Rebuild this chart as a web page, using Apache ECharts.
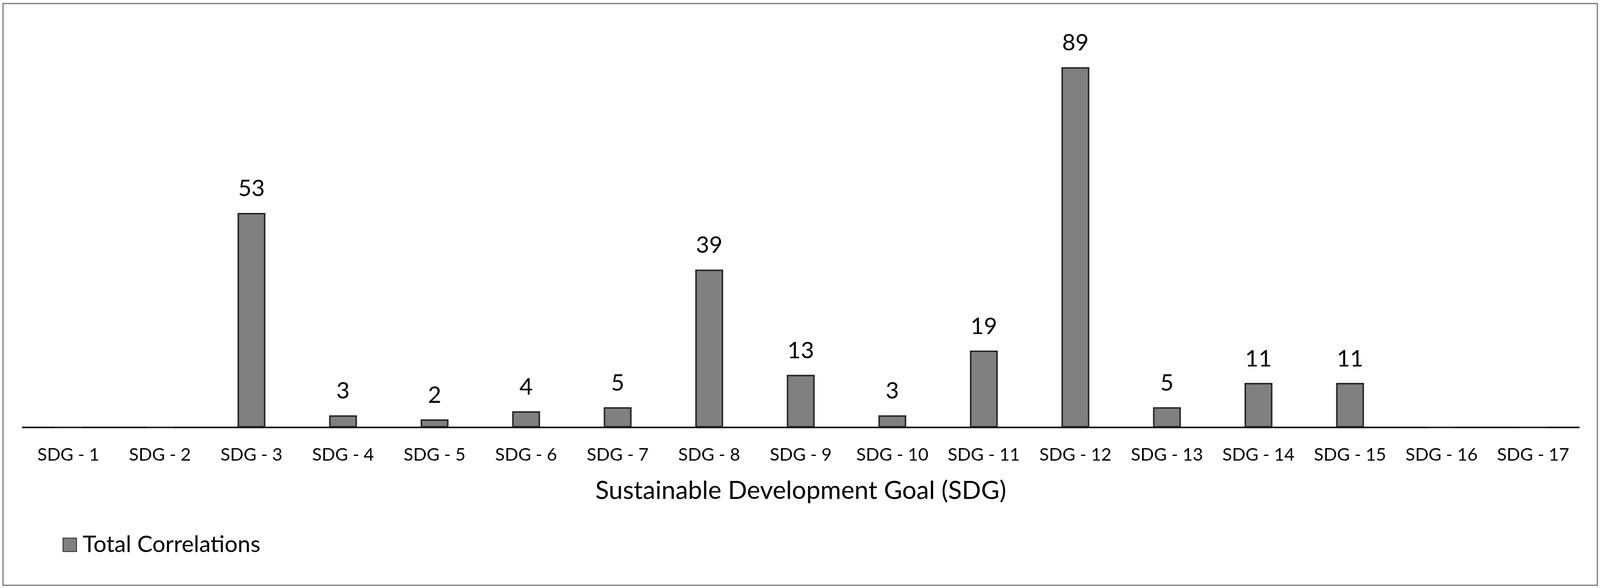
<!DOCTYPE html>
<html>
<head>
<meta charset="utf-8">
<script src="https://cdn.jsdelivr.net/npm/echarts@6/dist/echarts.min.js"></script>
<style>
  html, body { margin: 0; padding: 0; background: #ffffff; overflow: hidden; }
  #chart { width: 100vw; height: 100vh; }
</style>
</head>
<body>
<div id="chart"></div>
<script>
const categories = ['SDG - 1','SDG - 2','SDG - 3','SDG - 4','SDG - 5','SDG - 6','SDG - 7','SDG - 8','SDG - 9','SDG - 10','SDG - 11','SDG - 12','SDG - 13','SDG - 14','SDG - 15','SDG - 16','SDG - 17'];
const totalCorrelations = [0, 0, 53, 3, 2, 4, 5, 39, 13, 3, 19, 89, 5, 11, 11, 0, 0];
const seriesName = 'Total Correlations';
const xAxisTitle = 'Sustainable Development Goal (SDG)';

const FONT = 'Lato';
const el = document.getElementById('chart');
const W = el.clientWidth || window.innerWidth;
const H = el.clientHeight || window.innerHeight;
const sx = W / 4247, sy = H / 1505, s = Math.min(sx, sy);

const chart = echarts.init(el, null, { renderer: 'canvas' });

chart.setOption({
  backgroundColor: '#ffffff',
  animation: false,
  textStyle: { fontFamily: FONT, color: '#000000' },
  graphic: [{
    type: 'rect',
    shape: { x: 8 * sx, y: 9 * sy, width: 4232 * sx, height: 1489 * sy },
    style: { fill: 'none', stroke: '#767676', lineWidth: 3 * s },
    silent: true,
    z: -10
  }],
  legend: {
    show: true,
    left: 161 * sx,
    top: 1360 * sy,
    itemWidth: 36 * s,
    itemHeight: 36 * s,
    itemGap: 16 * s,
    icon: 'rect',
    textStyle: { fontFamily: FONT, fontSize: 61 * s, color: '#000000', padding: [0, 0, 0, 11 * s] },
    data: [seriesName]
  },
  grid: { left: 60 * sx, right: 56 * sx, top: 58 * sy, bottom: 411 * sy, containLabel: false },
  xAxis: {
    type: 'category',
    data: categories,
    name: xAxisTitle,
    nameLocation: 'middle',
    nameGap: 130 * sy,
    nameTextStyle: { fontFamily: FONT, fontSize: 67 * s, color: '#000000' },
    axisLine: { show: true, lineStyle: { color: '#000000', width: 4 * s } },
    axisTick: { show: false },
    axisLabel: { fontFamily: FONT, fontSize: 47 * s, color: '#000000', margin: 48 * sy, interval: 0 },
    splitLine: { show: false }
  },
  yAxis: {
    type: 'value',
    min: 0,
    max: 100,
    show: false,
    splitLine: { show: false }
  },
  series: [{
    name: seriesName,
    type: 'bar',
    data: totalCorrelations,
    barWidth: 74 * sx,
    itemStyle: { color: '#808080', borderColor: '#262626', borderWidth: 4 * s },
    label: {
      show: true,
      position: 'top',
      distance: 32 * sy,
      fontFamily: FONT,
      fontSize: 61 * s,
      color: '#000000',
      formatter: function (p) { return p.value === 0 ? '' : String(p.value); }
    }
  }]
});
window.addEventListener('resize', function () { chart.resize(); });
</script>
</body>
</html>
